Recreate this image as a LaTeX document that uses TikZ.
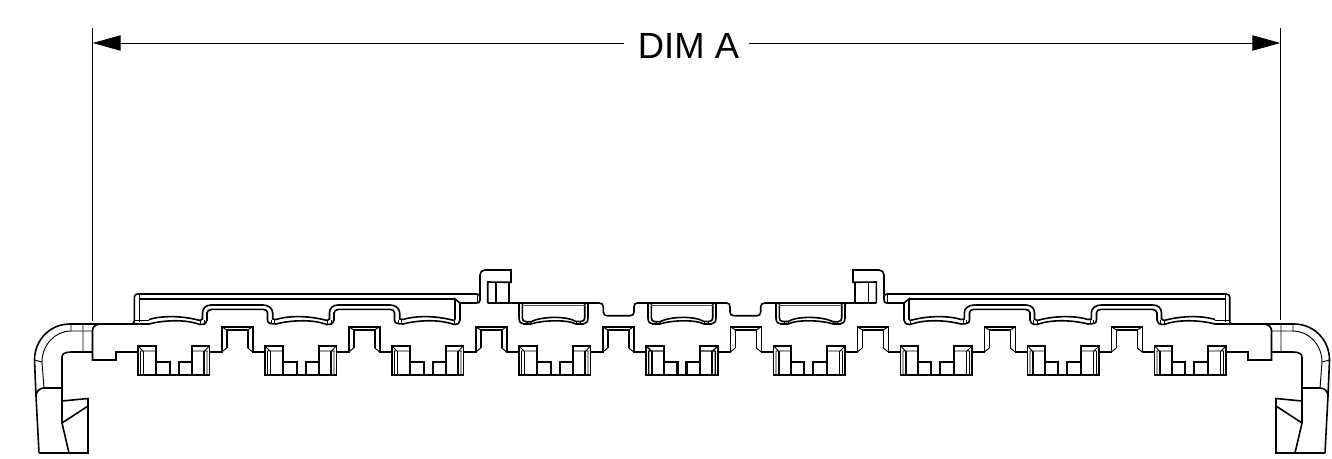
\documentclass[tikz,border=0pt]{standalone}
\usepackage{fontspec}
\setmainfont{Liberation Sans}
\usetikzlibrary{arrows.meta}
\tikzset{
  heavy/.style={line width=1.2pt,line join=miter,line cap=butt},
  fine/.style={line width=0.7pt},
  pale/.style={line width=0.9pt,black!65},
  dimline/.style={line width=0.75pt,-{Triangle[length=21pt,width=11.5pt]}},
  extline/.style={line width=0.75pt}
}
% one tooth block of the comb, centred on x=174 (shifted by scope)
\newcommand{\combunit}{%
  \draw[heavy] (138,352)--(138,346)--(156,346)--(156,375);
  \draw[heavy] (138,346)--(138,375)--(209.5,375)--(209.5,346)--(192,346)--(192,375);
  \draw[heavy] (156,362)--(170,362)--(170,375);
  \draw[heavy] (192,362)--(179,362)--(179,375);
  \draw[heavy] (143.5,351)--(143.5,375);
  \draw[heavy] (204,351)--(204,375);
  \draw[fine] (140,351)--(156,351) (192,351)--(207.5,351) (140.5,351)--(140.5,375) (207,351)--(207,375)
    (138,346)--(143,351) (209.5,346)--(204.5,351);
}
\newcommand{\castle}{%
  \draw[heavy] (209.5,352)--(221.7,352)--(221.7,326.7)--(252.7,326.7)--(252.7,352)--(265,352);
  \draw[heavy] (226.7,348)--(226.7,330)--(247.7,330)--(247.7,348);
  \draw[fine] (221.7,352)--(226.7,348) (252.7,352)--(247.7,348)
    (221.7,326.7)--(226.7,330) (252.7,326.7)--(247.7,330);
}
\newcommand{\valley}{%
  \draw[heavy] (149,319.5) .. controls (160,316) and (180,315) .. (200,320.5);
  \draw[heavy] (149,324) .. controls (160,321) and (180,319) .. (195,323) -- (200,324.5);
  \draw[fine] (200,320.5)--(200,324.5);
}
\newcommand{\flattop}{%
  \draw[heavy] (200,320.5)--(202.5,319)--(202.5,313) .. controls (202.5,308) and (206,305) .. (211,305)
    --(263,305) .. controls (268,305) and (272.7,308) .. (272.7,313)--(272.7,319)--(276,319.5);
  \draw[heavy] (200,324.5) .. controls (205,324.5) and (207,323) .. (207,320)--(207,313)
    .. controls (207,311) and (209,309.3) .. (212,309.3)--(263,309.3)
    .. controls (266,309.3) and (267.5,311) .. (267.5,313)--(267.5,320)
    .. controls (267.5,323) and (270,324) .. (276,324);
  \draw[fine] (204,320)--(204,324.5) (271,320)--(271,324) (274,320)--(274,324);
}
% recess between x=#1 and x=#2
\newcommand{\pocket}[2]{%
  \draw[heavy] (#1,303)--(#1,318) .. controls (#1,322) and (#1+2,324) .. (#1+5,324)--(#1+12,324)
    .. controls (#1+22,320.5) and (#2-22,319) .. (#2-12,324)--(#2-5,324)
    .. controls (#2-2,324) and (#2,322) .. (#2,318)--(#2,303);
  \draw[heavy] (#1+3.3,303)--(#1+3.3,318) .. controls (#1+3.3,320) and (#1+4.5,321.7) .. (#1+7,321.7)--(#1+12,321.7)
    .. controls (#1+22,316.5) and (#2-22,315.5) .. (#2-12,321.5)--(#2-7,321.5)
    .. controls (#2-4.5,321.5) and (#2-3.3,320) .. (#2-3.3,318)--(#2-3.3,303);
  \draw[pale] (#1+3.3,305.3)--(#2-3.3,305.3);
  \draw[fine] (#1+8,321.7)--(#1+8,324) (#1+12,321.7)--(#1+12,324) (#2-8,321.5)--(#2-8,324) (#2-12,321.5)--(#2-12,324);
}
\newcommand{\halfpart}{%
  % hook and foot
  \draw[heavy] (39,453)--(36,396)--(34.5,360) .. controls (34.5,340) and (50,324) .. (70,324)--(132,324);
  \draw[heavy] (62,423)--(62,357) .. controls (62,354) and (65,352) .. (71,352)--(92.5,352);
  \draw[heavy] (36,396) .. controls (36,391) and (40,388) .. (44,388)--(62,388);
  \draw[heavy] (39,453)--(88,453)--(88,398.5)--(62,401);
  \draw[heavy] (88,406)--(62,423)--(69,453);
  \draw[fine] (44,388)--(42,362) .. controls (42,345) and (55,331) .. (71,331)--(92.5,331);
  \draw[fine] (71,324)--(71,331) (83,324)--(83,352) (34.5,360)--(42,362);
  % body end
  \draw[heavy] (100,324) .. controls (95,324.5) and (92.5,327) .. (92.5,331)--(92.5,360)--(116,360)--(116,352)--(138,352);
  % comb
  \foreach \k in {0,1,2,3,4}{\begin{scope}[shift={(127*\k,0)}]\combunit\end{scope}}
  \foreach \k in {0,1,2,3}{\begin{scope}[shift={(127*\k,0)}]\castle\end{scope}}
  % top plate
  \draw[heavy] (132,324) .. controls (133.5,323.5) and (134.3,322.5) .. (134.3,321)--(134.3,297)
    .. controls (134.3,295) and (136,294) .. (138,294)--(477,294);
  \draw[fine] (139,294)--(139,322) (135,320)--(149,320);
  \draw[heavy] (139,299)--(455,299);
  \draw[heavy] (132,324)--(149,324);
  \foreach \k in {0,1,2}{\begin{scope}[shift={(127*\k,0)}]\valley\end{scope}}
  \foreach \k in {0,1}{\begin{scope}[shift={(127*\k,0)}]\flattop\end{scope}}
  % end of plate and post
  \draw[heavy] (454,324.5) .. controls (458,324.3) and (460,323) .. (460,320)--(460,303)--(477,303);
  \draw[heavy] (454,320.5)--(455,319)--(455,299)--(460,303);
  \draw[fine] (477,294)--(477,303);
  \draw[heavy] (477,294) .. controls (479,294.5) and (480,295) .. (480,297)--(480,300) .. controls (480,302) and (479,303) .. (477,303);
  \draw[heavy] (480,297)--(480,275) .. controls (480,272) and (482,270) .. (485,270)--(511,270)--(511,282.3)--(487.7,282)--(487.7,303);
  \draw[heavy] (495.7,282)--(495.7,303) (509,282.3)--(509,303);
  % recess row and notch
  \draw[heavy] (487.7,303)--(599,303) .. controls (602,303) and (603.3,304.5) .. (603.3,307)--(603.3,312)
    .. controls (603.3,314.5) and (605,315.7) .. (607,315.7)--(630,315.7)
    .. controls (632.5,315.7) and (634,314.5) .. (634,312)--(634,307)
    .. controls (634,304.5) and (635,303) .. (637.3,303)--(682,303);
  \pocket{519}{588}
}
\begin{document}
\begin{tikzpicture}[x=0.75pt,y=-0.75pt]
  \useasboundingbox (0,0) rectangle (1332,458);
  \fill[white] (0,0) rectangle (1332,458);
  \halfpart
  \begin{scope}[shift={(1364,0)},xscale=-1]\halfpart\end{scope}
  \pocket{648}{716}
  % dimension
  \coordinate (extLtop) at (92.7,28);
  \coordinate (extLend) at (92.7,321);
  \coordinate (extRtop) at (1280.3,28);
  \coordinate (extRend) at (1280.3,320);
  \coordinate (dimL) at (92.7,43);
  \coordinate (dimR) at (1280.3,43);
  \node[font=\fontsize{27.3pt}{30pt}\selectfont,inner xsep=10pt,inner ysep=0pt] (dim) at (688.5,46) {DIM A};
  \draw[extline] (extLtop)--(extLend);
  \draw[extline] (extRtop)--(extRend);
  \draw[dimline] (dim.west|-dimL)--(dimL);
  \draw[dimline,shorten <=-2.6pt] (dim.east|-dimR)--(dimR);
\end{tikzpicture}
\end{document}
